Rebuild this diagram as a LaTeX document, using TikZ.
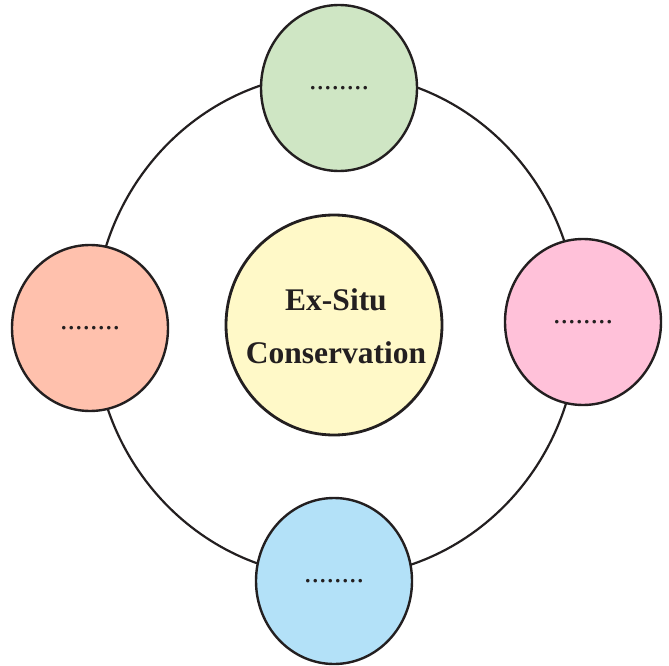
\documentclass[tikz,border=0pt]{standalone}
\usepackage{fontspec}
\setmainfont{Liberation Serif}
\usetikzlibrary{shapes.geometric}
\definecolor{inkc}{HTML}{231F20}
\definecolor{greenc}{HTML}{CFE6C4}
\definecolor{salmonc}{HTML}{FFC1AD}
\definecolor{pinkc}{HTML}{FFC1D9}
\definecolor{bluec}{HTML}{B3E1F8}
\definecolor{yellowc}{HTML}{FFF9C8}
\tikzset{
  sat/.style={ellipse, draw=inkc, line width=2.4pt, inner sep=0pt,
    minimum width=156pt, minimum height=166pt, text=inkc,
    font=\fontsize{30}{30}\selectfont},
  hub/.style={ellipse, draw=inkc, line width=2.8pt, inner sep=0pt,
    minimum width=216pt, minimum height=220pt, fill=yellowc},
  hubtext/.style={text=inkc, inner sep=0pt, align=center,
    font=\bfseries\fontsize{31.5}{53}\selectfont},
  ringst/.style={ellipse, draw=inkc, line width=2.2pt, inner sep=0pt,
    minimum width=484pt, minimum height=504pt}
}
\begin{document}
\begin{tikzpicture}[x=1pt,y=-1pt]
\useasboundingbox (0,0) rectangle (669,666);
\node[ringst] (ring) at (336,325) {};
\node[sat, fill=greenc] (top) at (339,88) {........};
\node[sat, fill=salmonc] (left) at (90,328) {........};
\node[sat, fill=pinkc] (right) at (583,322) {........};
\node[sat, fill=bluec] (bottom) at (334,581) {........};
\node[hub] (hubn) at (334,325) {};
\node[hubtext] (hublabel) at (336,326) {Ex-Situ\\Conservation};
\end{tikzpicture}
\end{document}
